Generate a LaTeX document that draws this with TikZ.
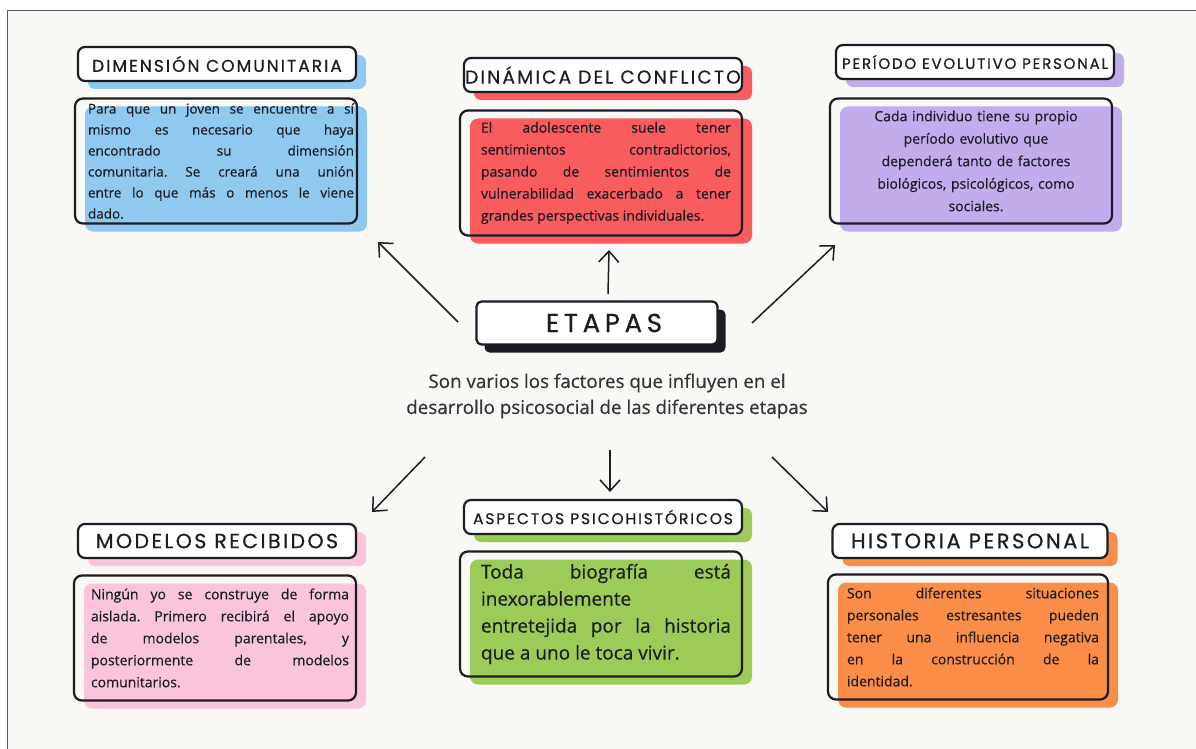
\documentclass[tikz,border=0pt]{standalone}
\usepackage{fontspec}
\setmainfont{Open Sans}[FakeBold=0.4]
\newfontfamily\headfont{Poppins}[LetterSpace=12, FakeBold=0.6]
\usepackage{tikz}
\usetikzlibrary{arrows.meta,shadows}
\frenchspacing
\definecolor{bgpaper}{RGB}{248,248,244}
\definecolor{ink}{RGB}{28,28,36}
\definecolor{framegray}{RGB}{90,90,90}
\definecolor{cblue}{RGB}{143,201,240}
\definecolor{cred}{RGB}{249,92,92}
\definecolor{cpurple}{RGB}{194,172,236}
\definecolor{cpink}{RGB}{249,196,220}
\definecolor{cgreen}{RGB}{156,203,88}
\definecolor{corange}{RGB}{250,142,72}
\tikzset{
  titlebox/.style={rectangle, rounded corners=7pt, draw=ink, line width=2.2pt, fill=white, minimum width=278pt, minimum height=34pt, inner sep=0pt, text=ink},
  bodybox/.style={rectangle, rounded corners=8pt, minimum width=282pt, minimum height=125pt, inner sep=0pt, align=justify, text=ink, font=\fontsize{14}{22}\selectfont,
    postaction={draw=ink, line width=2.2pt, transform canvas={shift={(-5pt,0pt)}}}},
  tint/.style={drop shadow={shadow xshift=5pt, shadow yshift=-8pt, fill=#1, opacity=1}},
  titletint/.style={drop shadow={shadow xshift=10pt, shadow yshift=-8pt, fill=#1, opacity=1}},
  mainbox/.style={rectangle, rounded corners=5pt, draw=ink, line width=2.2pt, fill=white, minimum width=241pt, minimum height=43pt, text=ink, font=\headfont\addfontfeatures{LetterSpace=18}\fontsize{26}{28}\selectfont, drop shadow={shadow xshift=8pt, shadow yshift=-8pt, fill=ink, opacity=1}},
  arrow/.style={-{Straight Barb[length=11pt,width=20pt]}, line width=1.5pt, draw=ink}
}

\begin{document}
\begin{tikzpicture}[x=1pt,y=-1pt]
\useasboundingbox (0,0) rectangle (1196,749);
\fill[white] (0,0) rectangle (1196,749);
\fill[bgpaper] (7,11) rectangle (1196,749);
\draw[framegray, line width=1pt] (7,749) -- (7,11) -- (1196,11);

% centre
\node[mainbox] (etapas) at (597,323) {\hspace*{14pt}ETAPAS};
\node[align=center, text=ink!90, font=\fontsize{18.8}{26}\selectfont] (sub) at (607,396) {Son varios los factores que influyen en el\\desarrollo psicosocial de las diferentes etapas};

% upper row
\node[titlebox, titletint=cblue, font=\headfont\fontsize{17}{18}\selectfont] (dimtitle) at (217,64) {DIMENSIÓN COMUNITARIA};
\node[bodybox, tint=cblue, text width=266pt, font=\fontsize{13.5}{21}\selectfont] (dimbody) at (221,161) {Para que un joven se encuentre a sí\linebreak mismo es necesario que haya\linebreak encontrado su dimensión\linebreak comunitaria. Se creará una unión\linebreak entre lo que más o menos le viene\linebreak dado.};

\node[titlebox, titletint=cred, font=\headfont\fontsize{18.5}{20}\selectfont] (dintitle) at (603,75) {DINÁMICA DEL CONFLICTO};
\node[bodybox, tint=cred, text width=250pt] (dinbody) at (606,173) {El adolescente suele tener\linebreak sentimientos contradictorios,\linebreak pasando de sentimientos de\linebreak vulnerabilidad exacerbado a tener\linebreak grandes perspectivas individuales.};

\node[titlebox, titletint=cpurple, font=\headfont\fontsize{15}{16}\selectfont] (pertitle) at (975,62) {PERÍODO EVOLUTIVO PERSONAL};
\node[bodybox, tint=cpurple, text width=266pt, align=center, font=\fontsize{14}{22.5}\selectfont] (perbody) at (976,161) {Cada individuo tiene su propio\\período evolutivo que\\dependerá tanto de factores\\biológicos, psicológicos, como\\sociales.};

% lower row
\node[titlebox, titletint=cpink, font=\headfont\fontsize{20.5}{22}\selectfont] (modtitle) at (217,541) {MODELOS RECIBIDOS};
\node[bodybox, tint=cpink, text width=258pt] (modbody) at (220,638) {Ningún yo se construye de forma\linebreak aislada. Primero recibirá el apoyo\linebreak de modelos parentales, y\linebreak posteriormente de modelos\linebreak comunitarios.};

\node[titlebox, titletint=cgreen, font=\headfont\fontsize{15.5}{17}\selectfont] (asptitle) at (603,517) {ASPECTOS PSICOHISTÓRICOS};
\node[bodybox, tint=cgreen, text width=250pt, font=\fontsize{19}{27}\selectfont] (aspbody) at (606,614) {Toda biografía está\linebreak inexorablemente\\entretejida por la historia\linebreak que a uno le toca vivir.};

\node[titlebox, titletint=corange, minimum width=275pt, font=\headfont\fontsize{21}{22}\selectfont] (histitle) at (970,541) {HISTORIA PERSONAL};
\node[bodybox, tint=corange, minimum width=280pt, text width=252pt] (hisbody) at (973,637) {Son diferentes situaciones\linebreak personales estresantes pueden\linebreak tener una influencia negativa\linebreak en la construcción de la\linebreak identidad.};

% arrow ends
\coordinate (ulfrom) at (458,322);
\coordinate (ulto) at (378,242);
\coordinate (upfrom) at (608,294);
\coordinate (upto) at (609,250);
\coordinate (urfrom) at (752,323);
\coordinate (urto) at (835,245);
\coordinate (llfrom) at (425,457);
\coordinate (llto) at (372,512);
\coordinate (dnfrom) at (610,450);
\coordinate (dnto) at (610,492);
\coordinate (lrfrom) at (772,457);
\coordinate (lrto) at (828,512);

\draw[arrow] (ulfrom) -- (ulto);
\draw[arrow] (upfrom) -- (upto);
\draw[arrow] (urfrom) -- (urto);
\draw[arrow] (llfrom) -- (llto);
\draw[arrow] (dnfrom) -- (dnto);
\draw[arrow] (lrfrom) -- (lrto);
\end{tikzpicture}
\end{document}
